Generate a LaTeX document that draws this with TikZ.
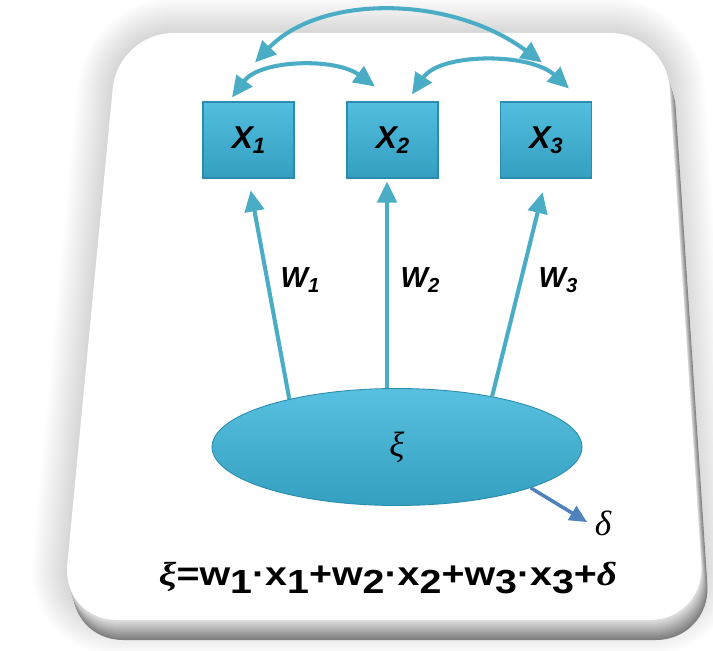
\documentclass[tikz,border=0pt]{standalone}
\usepackage{fontspec}
\setsansfont{Liberation Sans}
\newfontfamily\greekfont{Liberation Serif}
\usepackage{graphicx}
\usetikzlibrary{arrows.meta,positioning,calc,shapes.geometric}

\definecolor{boxcyan}{HTML}{3BB5DA}
\definecolor{boxedge}{HTML}{2B8DAE}
\definecolor{linkcyan}{HTML}{4BACC6}
\definecolor{noiseblue}{HTML}{4F81BD}

\newcommand{\lowsub}[1]{\raisebox{-0.3ex}{\scalebox{0.7}{#1}}}
\newcommand{\eqsub}[1]{\raisebox{-0.45ex}{#1}}
\newcommand{\panelpath}{(118,617) -- (666,617) -- (705,30) -- (62,30) -- cycle}

\tikzset{
  varbox/.style={rectangle, draw=boxedge, line width=0.6pt,
    top color=boxcyan!88!white, bottom color=boxcyan!88!black,
    minimum width=1.82cm, minimum height=1.52cm,
    font=\fontsize{18}{21}\selectfont\sffamily\bfseries\itshape},
  latent/.style={ellipse, draw=boxedge, line width=0.5pt,
    top color=boxcyan!85!white, bottom color=boxcyan!88!black,
    minimum width=7.4cm, minimum height=2.34cm, inner sep=0pt,
    font=\fontsize{20}{24}\selectfont\greekfont\itshape},
  weight/.style={font=\fontsize{16.5}{20}\selectfont\sffamily\bfseries\itshape},
  link/.style={draw=linkcyan, line width=2.3pt, -{Triangle[length=12pt,width=11pt]}},
  corr/.style={draw=linkcyan, line width=2.3pt,
    {Triangle[length=12pt,width=11pt]}-{Triangle[length=12pt,width=11pt]}},
}

\begin{document}
\begin{tikzpicture}[x=0.02cm,y=0.02cm]
    \useasboundingbox (0,0) rectangle (713,650);

    % panel with soft glow and bottom rim
    \foreach \w in {2pt,4pt,...,40pt}
        \draw[black, opacity=0.008, line width=\w, rounded corners=1.1cm] \panelpath;
    \foreach \i [evaluate=\i as \tone using int(4*\i+10)] in {10,9,...,1}
        \fill[black!\tone, rounded corners=1.1cm, shift={(0.6*\i,-2*\i)}] \panelpath;
    \fill[white, rounded corners=1.1cm] \panelpath;

    % observed variables
    \node[varbox] (x1) at (248.5,510) {X\lowsub{1}};
    \node[varbox] (x2) at (392.5,510) {X\lowsub{2}};
    \node[varbox] (x3) at (546,510) {X\lowsub{3}};

    % latent variable
    \node[latent] (xi) at (397,203) {ξ};
    \node[font=\fontsize{20}{24}\selectfont\greekfont\itshape] (delta) at (603,127) {δ};

    % loadings
    \node[weight] (w1) at (300,370) {W\lowsub{1}};
    \node[weight] (w2) at (420,370) {W\lowsub{2}};
    \node[weight] (w3) at (558,370) {W\lowsub{3}};

    \draw[link, shorten >=0.24cm] (xi.156) -- (x1.south);
    \draw[link, shorten >=0.06cm] ($(xi.north)+(-10,0)$) -- ($(x2.south)+(-5.5,0)$);
    \draw[link, shorten >=0.28cm] (xi.28) -- (x3.south);
    \draw[draw=noiseblue, line width=2pt, -{Triangle[length=10pt,width=9pt]}, shorten >=1pt]
        (xi.343) -- (delta.west);

    % correlations
    \draw[corr] ($(x1.north)+(-16.5,4)$) .. controls ($(x1.north)+(11.5,42)$)
        and ($(x2.north)+(-57.5,44)$) .. ($(x2.north)+(-17.5,15)$);
    \draw[corr] ($(x2.north)+(19.5,7)$) .. controls ($(x2.north)+(47.5,49)$)
        and ($(x3.north)+(-16,49)$) .. ($(x3.north)+(23,13)$);
    \draw[corr] ($(x1.north)+(6.5,39)$) .. controls ($(x1.north)+(71.5,107)$)
        and ($(x3.north)+(-96,107)$) .. ($(x3.north)+(-4,39)$);

    % equation
    \node (eq) at (388,72) {\fontsize{19}{22}\selectfont\sffamily\bfseries
        \scalebox{1.18}[1]{{\greekfont\itshape ξ}=w\eqsub{1}·x\eqsub{1}+w\eqsub{2}·x\eqsub{2}+w\eqsub{3}·x\eqsub{3}+{\greekfont\itshape δ}}};
\end{tikzpicture}
\end{document}
